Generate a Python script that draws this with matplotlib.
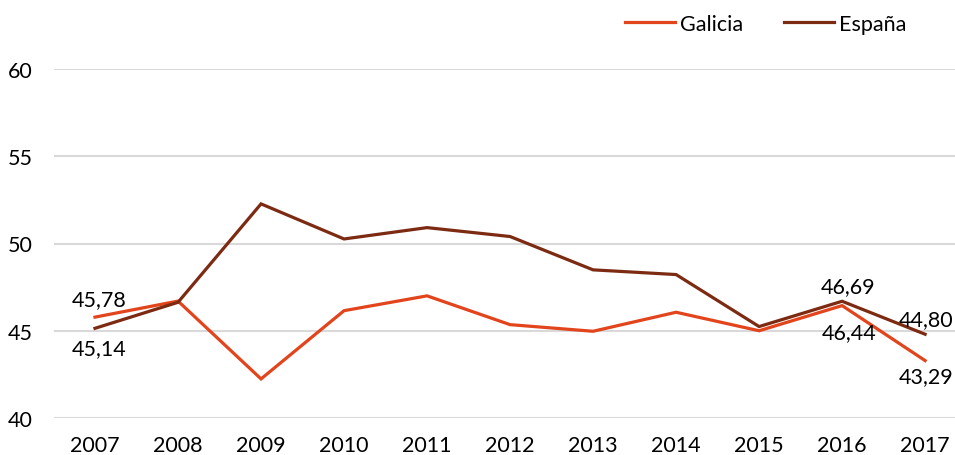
import matplotlib
matplotlib.use("Agg")
import matplotlib.pyplot as plt

plt.rcParams['font.family'] = ['Lato', 'DejaVu Sans']

years = ["2007", "2008", "2009", "2010", "2011", "2012", "2013", "2014", "2015", "2016", "2017"]
galicia = [45.78, 46.70, 42.24, 46.15, 47.00, 45.35, 44.97, 46.06, 45.00, 46.44, 43.29]
espana = [45.14, 46.63, 52.27, 50.26, 50.91, 50.40, 48.49, 48.22, 45.24, 46.69, 44.80]
y_ticks = [40, 45, 50, 55, 60]

c_gal = "#E2441C"
c_esp = "#7C2B12"

W, H = 955, 456
fig = plt.figure(figsize=(W / 100, H / 100), dpi=100)
left = 53.5 / W
bottom = (H - 419) / H
top = (H - 70) / H
ax = fig.add_axes([left, bottom, 1 - left, top - bottom])

x = list(range(len(years)))
ax.plot(x, galicia, color=c_gal, lw=2.3, label="Galicia", clip_on=False, solid_joinstyle="miter")
ax.plot(x, espana, color=c_esp, lw=2.3, label="España", clip_on=False, solid_joinstyle="miter")

ax.set_xlim(-0.5, 10.36)
ax.set_ylim(40, 60)
ax.set_yticks(y_ticks)
ax.set_yticklabels([str(v) for v in y_ticks])
ax.set_xticks(x)
ax.set_xticklabels(years)
ax.grid(axis="y", color="#d9d9d9", lw=1.5)
ax.set_axisbelow(True)
for s in ax.spines.values():
    s.set_visible(False)
fs = 15.5
ax.tick_params(axis="both", length=0, labelsize=fs, colors="black")
ax.tick_params(axis="y", pad=15)
ax.tick_params(axis="x", pad=12.5)

def fmt(v):
    return f"{v:.2f}".replace(".", ",")

# annotations
ax.annotate(fmt(galicia[0]), (0, galicia[0]), xytext=(3, 6), textcoords="offset points",
            ha="center", va="bottom", fontsize=fs)
ax.annotate(fmt(espana[0]), (0, espana[0]), xytext=(3, -7), textcoords="offset points",
            ha="center", va="top", fontsize=fs)
ax.annotate(fmt(espana[9]), (9, espana[9]), xytext=(4, 4), textcoords="offset points",
            ha="center", va="bottom", fontsize=fs)
ax.annotate(fmt(galicia[9]), (9, galicia[9]), xytext=(5, -12), textcoords="offset points",
            ha="center", va="top", fontsize=fs)
ax.annotate(fmt(espana[10]), (10, espana[10]), xytext=(1, 4), textcoords="offset points",
            ha="center", va="bottom", fontsize=fs)
ax.annotate(fmt(galicia[10]), (10, galicia[10]), xytext=(1, -4), textcoords="offset points",
            ha="center", va="top", fontsize=fs)

leg = fig.legend(loc="center", bbox_to_anchor=(766 / W, 1 - 25 / H), ncol=2, frameon=False,
                 fontsize=fs, handlelength=2.3, handletextpad=0.25, columnspacing=1.9)

fig.savefig("out.png", dpi=100)
